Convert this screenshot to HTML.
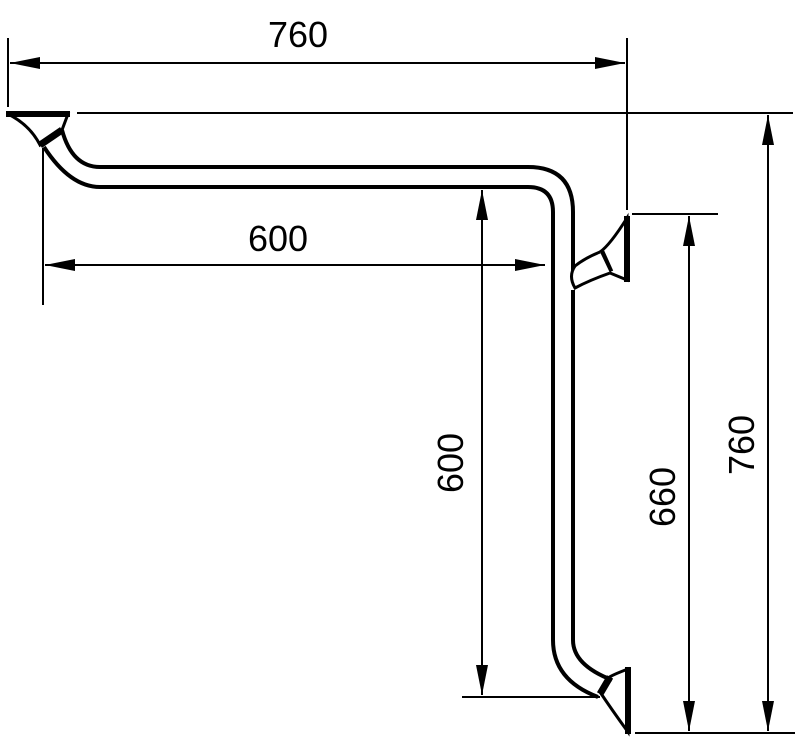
<!DOCTYPE html>
<html><head><style>html,body{margin:0;padding:0;background:#fff}</style></head><body>
<svg width="800" height="741" viewBox="0 0 800 741" xmlns="http://www.w3.org/2000/svg">
<defs>
<marker id="a" viewBox="0 0 30 12" refX="30" refY="6" markerWidth="30" markerHeight="12" markerUnits="userSpaceOnUse" orient="auto-start-reverse"><path d="M0,0 L30,6 L0,12 Z" fill="#000"/></marker>
</defs>
<g stroke="#000" fill="none" stroke-width="2">
<!-- extension lines -->
<line x1="8" y1="38" x2="8" y2="107"/>
<line x1="627" y1="38" x2="627" y2="210"/>
<line x1="77" y1="113" x2="793" y2="113"/>
<line x1="43" y1="148" x2="43" y2="305"/>
<line x1="632" y1="214" x2="718" y2="214"/>
<line x1="462" y1="697" x2="600" y2="697"/>
<line x1="635" y1="733" x2="795" y2="733"/>
<!-- dimension lines -->
<line x1="10" y1="63" x2="625" y2="63" marker-start="url(#a)" marker-end="url(#a)"/>
<line x1="45" y1="265" x2="545" y2="265" marker-start="url(#a)" marker-end="url(#a)"/>
<line x1="482" y1="190" x2="482" y2="695" marker-start="url(#a)" marker-end="url(#a)"/>
<line x1="689" y1="216" x2="689" y2="731" marker-start="url(#a)" marker-end="url(#a)"/>
<line x1="768" y1="115" x2="768" y2="731" marker-start="url(#a)" marker-end="url(#a)"/>
</g>
<!-- tube -->
<g stroke="#000" fill="none" stroke-width="4">
<path d="M62,130 Q72,167 100,167 L528,167 Q573,167 573,212 L573,278"/>
<path d="M573,290 L573,640 Q573,665 612,680"/>
<path d="M44,147 Q70,187 100,187 L528,187 Q553,187 553,212 L553,640 Q553,680 598,697"/>
<!-- left flange -->
<path d="M8,114 Q30,125 40,145 L62,130 L68,114 Z" stroke-width="3"/>
<line x1="6" y1="114" x2="70" y2="114" stroke-width="6"/>
<line x1="40" y1="145" x2="62" y2="130" stroke-width="7"/>
<!-- right flange -->
<path d="M627,218 Q610,245 600,252 L610,273 L627,280 Z" stroke-width="3"/>
<line x1="627" y1="216" x2="627" y2="282" stroke-width="6"/>
<line x1="601" y1="252" x2="610" y2="272" stroke-width="7"/>
<path d="M600,252 Q585,258 575,266 Q568,276 575,288 Q590,280 610,273" stroke-width="3" fill="#fff"/>
<!-- bottom flange -->
<path d="M628,669 Q612,675 608,678 L600,692 Q612,710 628,732 Z" stroke-width="3"/>
<line x1="628" y1="667" x2="628" y2="734" stroke-width="6"/>
<line x1="610" y1="677" x2="600" y2="694" stroke-width="7"/>
</g>
<g font-family="Liberation Sans, sans-serif" font-size="36" fill="#000" text-anchor="middle">
<text x="298" y="47">760</text>
<text x="278" y="251">600</text>
<text transform="translate(463,463) rotate(-90)">600</text>
<text transform="translate(675,497) rotate(-90)">660</text>
<text transform="translate(754,445) rotate(-90)">760</text>
</g>
</svg>
</body></html>
